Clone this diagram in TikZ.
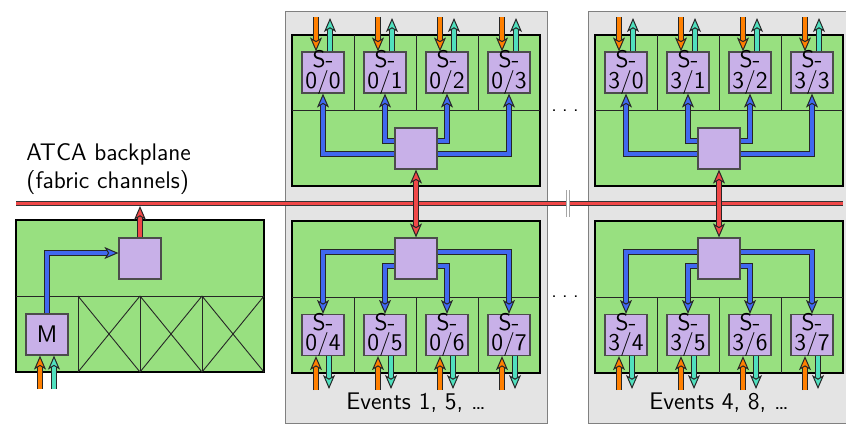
\documentclass[tikz,border=0pt]{standalone}
\usepackage{tikz}
\usetikzlibrary{arrows.meta}
\definecolor{boardgreen}{RGB}{152,224,128}
\definecolor{chippurple}{RGB}{200,176,232}
\definecolor{panelgray}{RGB}{228,228,228}
\definecolor{pipeblue}{RGB}{64,104,240}
\definecolor{pipered}{RGB}{240,72,72}
\definecolor{pipeorange}{RGB}{255,128,0}
\definecolor{pipeteal}{RGB}{80,224,190}
\tikzset{
  panel/.style={fill=panelgray, draw=black!50, line width=0.5pt},
  board/.style={fill=boardgreen, draw=black, line width=0.9pt},
  cell/.style={draw=black!85, line width=0.45pt},
  chip/.style={rectangle, fill=chippurple, draw=black!70, line width=0.6pt, minimum width=21pt, minimum height=20.5pt, inner sep=0pt},
  chiplbl/.style={font=\sffamily\fontsize{12}{10.2}\selectfont, align=center, inner sep=0pt},
  pipe/.style={draw=#1, line width=1.7pt, preaction={draw=black!85, line width=2.9pt, arrows=-, shorten >=4.5pt}, -{Stealth[length=7pt, width=6pt, inset=1.8pt, fill=#1, color=black!85, line width=0.5pt]}},
  pipes/.style={draw=#1, line width=1.7pt, preaction={draw=black!85, line width=2.9pt, arrows=-, shorten >=4.5pt, shorten <=4.5pt}, {Stealth[length=7pt, width=6pt, inset=1.8pt, fill=#1, color=black!85, line width=0.5pt]}-{Stealth[length=7pt, width=6pt, inset=1.8pt, fill=#1, color=black!85, line width=0.5pt]}},
  rail/.style={draw=pipered, line width=1.6pt, preaction={draw=black!80, line width=2.8pt}}
}
\begin{document}
\begin{tikzpicture}[x=0.5pt, y=-0.5pt]
\useasboundingbox (0,0) rectangle (846,425);
\foreach \dx in {0,303} \draw[panel] (285+\dx,11) rectangle (547+\dx,423);
\node[font=\sffamily\large, align=left, anchor=north west, inner sep=0pt] (atca) at (26,143) {ATCA backplane\\(fabric channels)};
\draw[rail] (16,203.5) -- (843,203.5);
\fill[white] (566,190) rectangle (569.5,217);
\draw[black!35] (566,190) -- (566,217) (569.5,190) -- (569.5,217);
\node[font=\sffamily, anchor=base] (dotsa) at (565,111) {.\kern2.7pt.\kern2.7pt.};
\node[font=\sffamily, anchor=base] (dotsb) at (565,297) {.\kern2.7pt.\kern2.7pt.};

\draw[board] (16,220) rectangle (264,372);
\draw[cell] (16,296) -- (264,296);
\foreach \k in {1,2,3} {
  \draw[cell] (16+62*\k,296) -- (16+62*\k,372);
  \draw[cell] (16+62*\k,296) -- (78+62*\k,372) (16+62*\k,372) -- (78+62*\k,296);
}
\node[chip] (m) at (47,334.5) {};
\node[chiplbl] (ml) at (m) {M};
\node[chip] (msw) at (140,258.5) {};
\coordinate (bp) at (140,206);
\coordinate (mo) at (40,389);
\coordinate (mt) at (54,389);
\draw[pipe=pipeblue] (m.north) |- ([yshift=2.75pt]msw.west);
\draw[pipe=pipered] (msw.north) -- (bp);
\draw[pipe=pipeorange] (mo) -- (mo |- m.south);
\draw[pipe=pipeteal] (mt) -- (mt |- m.south);

\foreach \p/\dx/\ev in {0/0/{1, 5, …},3/303/{4, 8, …}} {
\begin{scope}[shift={(\dx,0)}]
\draw[board] (292,35) rectangle (540,186);
\draw[cell] (292,110) -- (540,110);
\draw[board] (292,221) rectangle (540,373);
\draw[cell] (292,297) -- (540,297);
\foreach \k in {1,2,3} {
  \draw[cell] (292+62*\k,35) -- (292+62*\k,110);
  \draw[cell] (292+62*\k,297) -- (292+62*\k,373);
}
\node[chip] (swa\p) at (416,148.5) {};
\node[chip] (swb\p) at (416,258.5) {};
\foreach \k/\n in {0/4,1/5,2/6,3/7} {
  \node[chip] (up\p\k) at (323+62*\k,72.5) {};
  \node[chiplbl] (upl\p\k) at (up\p\k) {S-\\\p/\k};
  \node[chip] (dn\p\k) at (323+62*\k,335) {};
  \node[chiplbl] (dnl\p\k) at (dn\p\k) {S-\\\p/\n};
  \coordinate (oa\p\k) at (316+62*\k,17);
  \coordinate (ta\p\k) at (330+62*\k,18);
  \coordinate (ob\p\k) at (316+62*\k,390);
  \coordinate (tb\p\k) at (329+62*\k,389);
  \draw[pipe=pipeorange] (oa\p\k) -- (oa\p\k |- up\p\k.north);
  \draw[pipe=pipeteal] (ta\p\k |- up\p\k.north) -- (ta\p\k);
  \draw[pipe=pipeorange] (ob\p\k) -- (ob\p\k |- dn\p\k.south);
  \draw[pipe=pipeteal] (tb\p\k |- dn\p\k.south) -- (tb\p\k);
}
\draw[pipe=pipeblue] ([yshift=-2.75pt]swa\p.west) -| (up\p0.south);
\draw[pipe=pipeblue] ([yshift=3.75pt]swa\p.west) -| (up\p1.south);
\draw[pipe=pipeblue] ([yshift=3.75pt]swa\p.east) -| (up\p2.south);
\draw[pipe=pipeblue] ([yshift=-2.75pt]swa\p.east) -| (up\p3.south);
\draw[pipe=pipeblue] ([yshift=3.25pt]swb\p.west) -| (dn\p0.north);
\draw[pipe=pipeblue] ([yshift=-3.75pt]swb\p.west) -| (dn\p1.north);
\draw[pipe=pipeblue] ([yshift=-3.75pt]swb\p.east) -| (dn\p2.north);
\draw[pipe=pipeblue] ([yshift=3.25pt]swb\p.east) -| (dn\p3.north);
\draw[pipes=pipered] (swa\p.south) -- (swb\p.north);
\node[font=\sffamily\large] (ev\p) at (416,403) {Events \ev};
\end{scope}
}
\end{tikzpicture}
\end{document}
